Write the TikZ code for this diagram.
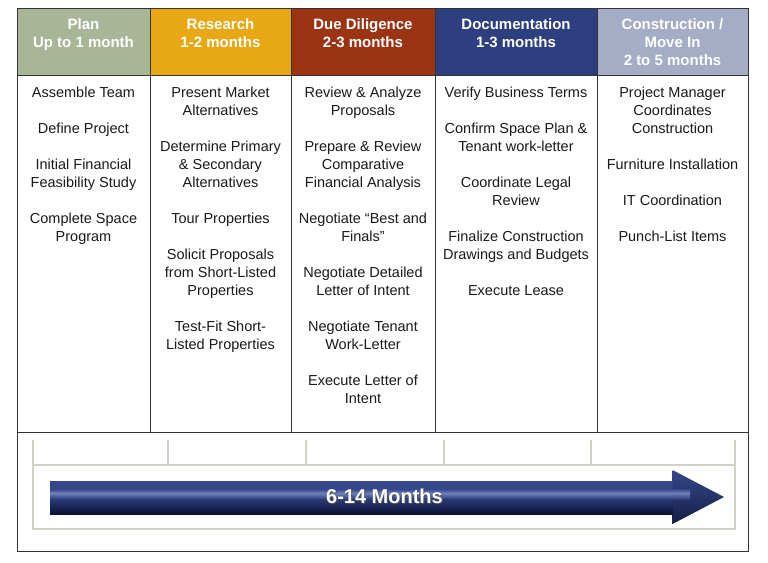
\documentclass[tikz,border=0pt]{standalone}
\usepackage{fontspec}
\setmainfont{Liberation Sans}
\definecolor{cplan}{HTML}{A8B597}
\definecolor{cres}{HTML}{E7A814}
\definecolor{cdd}{HTML}{9B3413}
\definecolor{cdoc}{HTML}{2E3F7F}
\definecolor{ccon}{HTML}{A4ACC6}
\definecolor{tlgray}{HTML}{D3D1C7}
\definecolor{arrtop}{HTML}{34478A}
\definecolor{arrhl}{HTML}{7080B8}
\definecolor{arrmid}{HTML}{2B3B7A}
\definecolor{arrbot}{HTML}{0C1230}
\definecolor{bodyink}{HTML}{1A1A1A}
\tikzset{
  headtext/.style={text=white, font=\fontsize{15}{18}\selectfont\bfseries, align=center, anchor=north, inner sep=0pt},
  bodytext/.style={text=bodyink, font=\fontsize{14.5}{18}\selectfont, align=center, anchor=north, inner sep=0pt},
  gridline/.style={draw=black!80, line width=0.8pt},
  tlline/.style={draw=tlgray, line width=1.6pt},
  tltextstyle/.style={font=\fontsize{20}{24}\selectfont\bfseries, inner sep=0pt},
}
\begin{document}
\begin{tikzpicture}[x=1pt,y=-1pt]
\useasboundingbox[fill=white] (0,0) rectangle (768,562);
% header cells
\fill[cplan] (17,8) rectangle (150,75);
\fill[cres]  (150,8) rectangle (291,75);
\fill[cdd]   (291,8) rectangle (435,75);
\fill[cdoc]  (435,8) rectangle (597,75);
\fill[ccon]  (597,8) rectangle (748,75);
% grid
\draw[gridline] (17,8) rectangle (748,551);
\draw[gridline] (17,75) -- (748,75);
\draw[gridline] (17,432) -- (748,432);
\foreach \x in {150,291,435,597} \draw[gridline] (\x,8) -- (\x,432);
% header texts
\node[headtext] (h1) at (83.5,18.5) {Plan\\Up to 1 month};
\node[headtext] (h2) at (220.5,18.5) {Research\\1-2 months};
\node[headtext] (h3) at (363,18.5) {Due Diligence\\2-3 months};
\node[headtext] (h4) at (516,18.5) {Documentation\\1-3 months};
\node[headtext] (h5) at (672.5,18.5) {Construction /\\Move In\\2 to 5 months};
% body texts
\node[bodytext] (b1) at (83.5,86.5) {Assemble Team\\[18pt]Define Project\\[18pt]Initial Financial\\Feasibility Study\\[18pt]Complete Space\\Program};
\node[bodytext] (b2) at (220.5,86.5) {Present Market\\Alternatives\\[18pt]Determine Primary\\\& Secondary\\Alternatives\\[18pt]Tour Properties\\[18pt]Solicit Proposals\\from Short-Listed\\Properties\\[18pt]Test-Fit Short-\\Listed Properties};
\node[bodytext] (b3) at (363,86.5) {Review \& Analyze\\Proposals\\[18pt]Prepare \& Review\\Comparative\\Financial Analysis\\[18pt]Negotiate “Best and\\Finals”\\[18pt]Negotiate Detailed\\Letter of Intent\\[18pt]Negotiate Tenant\\Work-Letter\\[18pt]Execute Letter of\\Intent};
\node[bodytext] (b4) at (516,86.5) {Verify Business Terms\\[18pt]Confirm Space Plan \&\\Tenant work-letter\\[18pt]Coordinate Legal\\Review\\[18pt]Finalize Construction\\Drawings and Budgets\\[18pt]Execute Lease};
\node[bodytext] (b5) at (672.5,86.5) {Project Manager\\Coordinates\\Construction\\[18pt]Furniture Installation\\[18pt]IT Coordination\\[18pt]Punch-List Items};
% timeline frame
\draw[tlline] (33,440) -- (33,529) -- (735,529) -- (735,440);
\draw[tlline] (33,465) -- (735,465);
\foreach \x in {168,306,444,591} \draw[tlline] (\x,440) -- (\x,465);
% arrow head
\shade[top color=arrtop, middle color=arrmid!90!arrtop, bottom color=arrbot!70!arrmid] (672.5,470) -- (724,497) -- (672.5,524) -- cycle;
% arrow shaft
\fill[arrtop] (50,481) rectangle (673,489.5);
\shade[top color=arrtop, bottom color=arrhl] (50,489) rectangle (690,493.2);
\shade[top color=arrhl, bottom color=arrmid] (50,493) rectangle (690,499.2);
\shade[top color=arrmid, bottom color=arrbot] (50,499) rectangle (673,514);
% label
\node[tltextstyle, text=black!70] (tlshadow) at (385.5,497.5) {6-14 Months};
\node[tltextstyle, text=white] (tltext) at (384.5,496.5) {6-14 Months};
\end{tikzpicture}
\end{document}
